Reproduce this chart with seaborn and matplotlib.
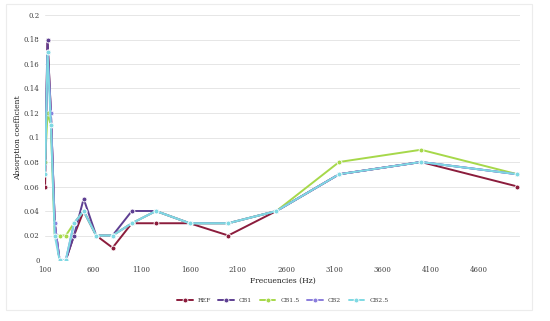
import matplotlib
matplotlib.use("Agg")
import matplotlib.pyplot as plt
import seaborn as sns
import pandas as pd
from matplotlib.patches import Rectangle

freqs = [100, 125, 160, 200, 250, 315, 400, 500, 630, 800, 1000, 1250,
         1600, 2000, 2500, 3150, 4000, 5000]
ref = [0.06, 0.18, 0.12, 0.03, 0.00, 0.00, 0.02, 0.04, 0.02, 0.01, 0.03, 0.03,
       0.03, 0.02, 0.04, 0.07, 0.08, 0.06]
cb1 = [0.08, 0.18, 0.12, 0.03, 0.00, 0.00, 0.02, 0.05, 0.02, 0.02, 0.04, 0.04,
       0.03, 0.03, 0.04, 0.07, 0.08, 0.07]
cb15 = [0.08, 0.12, 0.11, 0.02, 0.02, 0.02, 0.03, 0.04, 0.02, 0.02, 0.03, 0.04,
        0.03, 0.03, 0.04, 0.08, 0.09, 0.07]
cb2 = [0.07, 0.17, 0.12, 0.03, 0.00, 0.00, 0.03, 0.04, 0.02, 0.02, 0.03, 0.04,
       0.03, 0.03, 0.04, 0.07, 0.08, 0.07]
cb25 = [0.07, 0.17, 0.11, 0.02, 0.00, 0.00, 0.03, 0.04, 0.02, 0.02, 0.03, 0.04,
        0.03, 0.03, 0.04, 0.07, 0.08, 0.07]
names = ["REF", "CB1", "CB1.5", "CB2", "CB2.5"]
colors = ["#8b1c3c", "#5e3f92", "#a6d84a", "#8a7ddc", "#7fd9e3"]

rows = []
for name, vals in zip(names, [ref, cb1, cb15, cb2, cb25]):
    for f, v in zip(freqs, vals):
        rows.append({"freq": f, "value": v, "series": name})
df = pd.DataFrame(rows)

sns.set_style("white")
plt.rcParams["font.family"] = ["DejaVu Serif"]

fig = plt.figure(figsize=(5.5, 3.21), dpi=100)
# faint frame around the chart area
fig.patches.append(Rectangle((6 / 550, 1 - 310 / 321), 526 / 550, 306 / 321,
                             transform=fig.transFigure, fill=False,
                             edgecolor="#ececec", linewidth=0.8))
ax = fig.add_axes([0.082, 1 - 260 / 321, 0.864, 245 / 321])

sns.lineplot(data=df, x="freq", y="value", hue="series", palette=colors,
             marker="o", markersize=3.5, markeredgewidth=0.6, linewidth=1.4,
             ax=ax, legend=True)

ax.set_xlim(100, 5030)
ax.set_ylim(0, 0.2)
ax.set_xticks(range(100, 5000, 500))
ax.set_yticks([0, 0.02, 0.04, 0.06, 0.08, 0.1, 0.12, 0.14, 0.16, 0.18, 0.2])
ax.set_yticklabels(["0", "0.02", "0.04", "0.06", "0.08", "0.1", "0.12",
                    "0.14", "0.16", "0.18", "0.2"])
ax.tick_params(labelsize=5, colors="#404040", length=0, pad=4)
ax.yaxis.grid(True, color="#e6e6e6", linewidth=0.7)
for s in ax.spines.values():
    s.set_visible(False)
ax.set_xlabel("Frecuencies (Hz)", fontsize=5.5, color="#202020", labelpad=2)
ax.set_ylabel("Absorption coefficient", fontsize=5.5, color="#202020")
ax.yaxis.set_label_coords(-0.048, 0.5)

handles, labels = ax.get_legend_handles_labels()
ax.legend(handles, labels, loc="upper center", bbox_to_anchor=(0.5, -0.13),
          ncol=5, frameon=False, fontsize=4.5, handlelength=2.5,
          columnspacing=1.2, labelcolor="#404040")

fig.savefig("out.png", dpi=100)
